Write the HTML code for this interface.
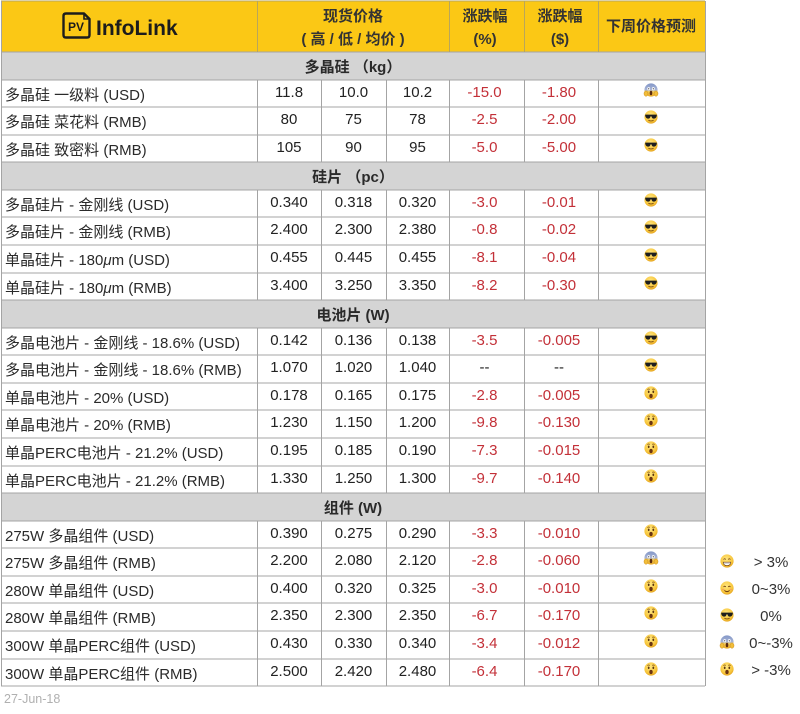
<!DOCTYPE html>
<html><head><meta charset="utf-8">
<style>
html,body{margin:0;padding:0;background:#fff;}
svg{display:block;}
.t{font-family:"Liberation Sans","Noto Sans CJK SC",sans-serif;}
</style></head>
<body>
<svg width="800" height="714" viewBox="0 0 800 714" xmlns="http://www.w3.org/2000/svg">
<defs>
<radialGradient id="yg" cx="0.45" cy="0.35" r="0.7">
<stop offset="0" stop-color="#FFE680"/><stop offset="0.7" stop-color="#F7C53A"/><stop offset="1" stop-color="#E09A1A"/>
</radialGradient>
<linearGradient id="bg" x1="0" y1="0" x2="0" y2="1">
<stop offset="0" stop-color="#8397C8"/><stop offset="0.5" stop-color="#A8B4D6"/><stop offset="0.62" stop-color="#F5CC55"/><stop offset="1" stop-color="#E8A828"/>
</linearGradient>
<g id="cool">
<circle r="6.6" fill="url(#yg)"/>
<path d="M-5.8,-2.4 H5.8 V-1.3 Q5.3,1.6 2.6,1.6 Q0.9,1.6 0.5,-0.6 H-0.5 Q-0.9,1.6 -2.6,1.6 Q-5.3,1.6 -5.8,-1.3Z" fill="#1e1e1e"/>
<path d="M-2.6,3.1 Q0,4.8 2.6,3.1" stroke="#7a4a10" stroke-width="0.9" fill="none"/>
</g>
<g id="ast">
<circle r="6.6" fill="url(#yg)"/>
<path d="M-3.6,-3.4 Q-2.4,-4.4 -1.2,-3.6 M1.2,-3.6 Q2.4,-4.4 3.6,-3.4" stroke="#7a4a10" stroke-width="0.7" fill="none"/>
<ellipse cx="-2.3" cy="-1.2" rx="0.9" ry="1.3" fill="#5a3510"/>
<ellipse cx="2.3" cy="-1.2" rx="0.9" ry="1.3" fill="#5a3510"/>
<ellipse cx="0" cy="3" rx="1.7" ry="2.1" fill="#6b3412"/>
</g>
<g id="scream">
<circle r="6.6" fill="url(#bg)"/>
<ellipse cx="-2.3" cy="-1.3" rx="1.4" ry="1.6" fill="#fff"/>
<ellipse cx="2.3" cy="-1.3" rx="1.4" ry="1.6" fill="#fff"/>
<circle cx="-2.3" cy="-1.2" r="0.6" fill="#333"/>
<circle cx="2.3" cy="-1.2" r="0.6" fill="#333"/>
<ellipse cx="0" cy="3" rx="1.3" ry="2.3" fill="#5a2a10"/>
<ellipse cx="-5" cy="3.6" rx="2" ry="2.6" fill="#F2BE3A" stroke="#C98A18" stroke-width="0.5"/>
<ellipse cx="5" cy="3.6" rx="2" ry="2.6" fill="#F2BE3A" stroke="#C98A18" stroke-width="0.5"/>
</g>
<g id="grin">
<circle r="6.6" fill="url(#yg)"/>
<path d="M-3.4,-1.5 Q-2.3,-3 -1.2,-1.5 M1.2,-1.5 Q2.3,-3 3.4,-1.5" stroke="#6b3a10" stroke-width="0.8" fill="none"/>
<path d="M-3.8,1.2 H3.8 Q3.6,4.6 0,4.6 Q-3.6,4.6 -3.8,1.2Z" fill="#fff" stroke="#6b3a10" stroke-width="0.6"/>
<path d="M-3.6,2.6 H3.6" stroke="#999" stroke-width="0.4"/>
</g>
<g id="smile">
<circle r="6.6" fill="url(#yg)"/>
<path d="M-3.4,-1 Q-2.3,-2.6 -1.2,-1 M1.2,-1 Q2.3,-2.6 3.4,-1" stroke="#6b3a10" stroke-width="0.8" fill="none"/>
<ellipse cx="-3.8" cy="1.5" rx="1.3" ry="0.8" fill="#F08A6A" opacity="0.6"/>
<ellipse cx="3.8" cy="1.5" rx="1.3" ry="0.8" fill="#F08A6A" opacity="0.6"/>
<path d="M-2.6,2.4 Q0,4.8 2.6,2.4" stroke="#6b3a10" stroke-width="0.9" fill="none"/>
</g>
</defs>

<rect x="0" y="0" width="800" height="714" fill="#fff"/>

<!-- header -->
<rect x="1" y="1" width="704" height="51" fill="#FBC815"/>
<!-- section rows -->
<rect x="1" y="52" width="704" height="28" fill="#D4D4D4"/>
<rect x="1" y="162" width="704" height="28" fill="#D4D4D4"/>
<rect x="1" y="300" width="704" height="28" fill="#D4D4D4"/>
<rect x="1" y="493" width="704" height="28" fill="#D4D4D4"/>

<!-- horizontal lines -->
<g stroke="#A4A4A4" stroke-width="1">
<line x1="1" y1="1" x2="705" y2="1" stroke="#B9A65A"/>
<line x1="1" y1="52" x2="705" y2="52"/>
<line x1="1" y1="80" x2="705" y2="80"/>
<line x1="1" y1="107" x2="705" y2="107"/>
<line x1="1" y1="135" x2="705" y2="135"/>
<line x1="1" y1="162" x2="705" y2="162"/>
<line x1="1" y1="190" x2="705" y2="190"/>
<line x1="1" y1="217" x2="705" y2="217"/>
<line x1="1" y1="245" x2="705" y2="245"/>
<line x1="1" y1="273" x2="705" y2="273"/>
<line x1="1" y1="300" x2="705" y2="300"/>
<line x1="1" y1="328" x2="705" y2="328"/>
<line x1="1" y1="355" x2="705" y2="355"/>
<line x1="1" y1="383" x2="705" y2="383"/>
<line x1="1" y1="410" x2="705" y2="410"/>
<line x1="1" y1="438" x2="705" y2="438"/>
<line x1="1" y1="466" x2="705" y2="466"/>
<line x1="1" y1="493" x2="705" y2="493"/>
<line x1="1" y1="521" x2="705" y2="521"/>
<line x1="1" y1="548" x2="705" y2="548"/>
<line x1="1" y1="576" x2="705" y2="576"/>
<line x1="1" y1="603" x2="705" y2="603"/>
<line x1="1" y1="631" x2="705" y2="631"/>
<line x1="1" y1="659" x2="705" y2="659"/>
<line x1="1" y1="686" x2="705" y2="686"/>
<!-- outer verticals -->
<line x1="1.5" y1="1" x2="1.5" y2="686"/>
<line x1="705.5" y1="1" x2="705.5" y2="686"/>
</g>
<!-- header verticals -->
<g stroke="#B9A65A" stroke-width="1">
<line x1="257.5" y1="1" x2="257.5" y2="52"/>
<line x1="449.5" y1="1" x2="449.5" y2="52"/>
<line x1="524.5" y1="1" x2="524.5" y2="52"/>
<line x1="598.5" y1="1" x2="598.5" y2="52"/>
</g>
<!-- data verticals -->
<g stroke="#A4A4A4" stroke-width="1">
<line x1="257.5" y1="80" x2="257.5" y2="162"/><line x1="321.5" y1="80" x2="321.5" y2="162"/><line x1="386.5" y1="80" x2="386.5" y2="162"/><line x1="449.5" y1="80" x2="449.5" y2="162"/><line x1="524.5" y1="80" x2="524.5" y2="162"/><line x1="598.5" y1="80" x2="598.5" y2="162"/>
<line x1="257.5" y1="190" x2="257.5" y2="300"/><line x1="321.5" y1="190" x2="321.5" y2="300"/><line x1="386.5" y1="190" x2="386.5" y2="300"/><line x1="449.5" y1="190" x2="449.5" y2="300"/><line x1="524.5" y1="190" x2="524.5" y2="300"/><line x1="598.5" y1="190" x2="598.5" y2="300"/>
<line x1="257.5" y1="328" x2="257.5" y2="493"/><line x1="321.5" y1="328" x2="321.5" y2="493"/><line x1="386.5" y1="328" x2="386.5" y2="493"/><line x1="449.5" y1="328" x2="449.5" y2="493"/><line x1="524.5" y1="328" x2="524.5" y2="493"/><line x1="598.5" y1="328" x2="598.5" y2="493"/>
<line x1="257.5" y1="521" x2="257.5" y2="686"/><line x1="321.5" y1="521" x2="321.5" y2="686"/><line x1="386.5" y1="521" x2="386.5" y2="686"/><line x1="449.5" y1="521" x2="449.5" y2="686"/><line x1="524.5" y1="521" x2="524.5" y2="686"/><line x1="598.5" y1="521" x2="598.5" y2="686"/>
</g>

<!-- logo -->
<path d="M66,13.5 H84 L89.5,19 V35 Q89.5,37.5 87,37.5 H66 Q63.5,37.5 63.5,35 V16 Q63.5,13.5 66,13.5Z" fill="none" stroke="#1c1c1c" stroke-width="2.4" stroke-linejoin="round"/>
<path d="M84,13.5 V19 H89.5" fill="none" stroke="#1c1c1c" stroke-width="1.6"/>
<text class="t" x="76" y="31" font-size="12" font-weight="bold" fill="#1c1c1c" text-anchor="middle">PV</text>
<text class="t" x="96" y="35" font-size="21" font-weight="bold" fill="#1c1c1c">InfoLink</text>

<!-- header text -->
<g class="t" font-size="15" font-weight="bold" fill="#333" text-anchor="middle">
<text x="353" y="21">现货价格</text>
<text x="353" y="44">( 高 / 低 / 均价 )</text>
<text x="485" y="21">涨跌幅</text>
<text x="485" y="44">(%)</text>
<text x="560" y="21">涨跌幅</text>
<text x="560" y="44">($)</text>
<text x="651" y="31">下周价格预测</text>
</g>

<!-- section titles -->
<g class="t" font-size="15" font-weight="bold" fill="#2a2a2a" text-anchor="middle">
<text x="353" y="72">多晶硅 （kg）</text>
<text x="353" y="182">硅片 （pc）</text>
<text x="353" y="320">电池片 (W)</text>
<text x="353" y="513">组件 (W)</text>
</g>

<!-- labels -->
<g class="t" font-size="15" fill="#2a2a2a">
<text x="5" y="100">多晶硅 一级料 (USD)</text>
<text x="5" y="127">多晶硅 菜花料 (RMB)</text>
<text x="5" y="155">多晶硅 致密料 (RMB)</text>
<text x="5" y="210">多晶硅片 - 金刚线 (USD)</text>
<text x="5" y="237">多晶硅片 - 金刚线 (RMB)</text>
<text x="5" y="265">单晶硅片 - 180<tspan font-style="italic">μ</tspan>m (USD)</text>
<text x="5" y="293">单晶硅片 - 180<tspan font-style="italic">μ</tspan>m (RMB)</text>
<text x="5" y="348">多晶电池片 - 金刚线 - 18.6% (USD)</text>
<text x="5" y="375">多晶电池片 - 金刚线 - 18.6% (RMB)</text>
<text x="5" y="403">单晶电池片 - 20% (USD)</text>
<text x="5" y="430">单晶电池片 - 20% (RMB)</text>
<text x="5" y="458">单晶PERC电池片 - 21.2% (USD)</text>
<text x="5" y="486">单晶PERC电池片 - 21.2% (RMB)</text>
<text x="5" y="541">275W 多晶组件 (USD)</text>
<text x="5" y="568">275W 多晶组件 (RMB)</text>
<text x="5" y="596">280W 单晶组件 (USD)</text>
<text x="5" y="623">280W 单晶组件 (RMB)</text>
<text x="5" y="651">300W 单晶PERC组件 (USD)</text>
<text x="5" y="679">300W 单晶PERC组件 (RMB)</text>
</g>

<!-- prices -->
<g class="t" font-size="15" fill="#222" text-anchor="middle">
<text x="289" y="97">11.8</text><text x="353.5" y="97">10.0</text><text x="417.5" y="97">10.2</text>
<text x="289" y="124">80</text><text x="353.5" y="124">75</text><text x="417.5" y="124">78</text>
<text x="289" y="152">105</text><text x="353.5" y="152">90</text><text x="417.5" y="152">95</text>
<text x="289" y="207">0.340</text><text x="353.5" y="207">0.318</text><text x="417.5" y="207">0.320</text>
<text x="289" y="234">2.400</text><text x="353.5" y="234">2.300</text><text x="417.5" y="234">2.380</text>
<text x="289" y="262">0.455</text><text x="353.5" y="262">0.445</text><text x="417.5" y="262">0.455</text>
<text x="289" y="290">3.400</text><text x="353.5" y="290">3.250</text><text x="417.5" y="290">3.350</text>
<text x="289" y="345">0.142</text><text x="353.5" y="345">0.136</text><text x="417.5" y="345">0.138</text>
<text x="289" y="372">1.070</text><text x="353.5" y="372">1.020</text><text x="417.5" y="372">1.040</text>
<text x="289" y="400">0.178</text><text x="353.5" y="400">0.165</text><text x="417.5" y="400">0.175</text>
<text x="289" y="427">1.230</text><text x="353.5" y="427">1.150</text><text x="417.5" y="427">1.200</text>
<text x="289" y="455">0.195</text><text x="353.5" y="455">0.185</text><text x="417.5" y="455">0.190</text>
<text x="289" y="483">1.330</text><text x="353.5" y="483">1.250</text><text x="417.5" y="483">1.300</text>
<text x="289" y="538">0.390</text><text x="353.5" y="538">0.275</text><text x="417.5" y="538">0.290</text>
<text x="289" y="565">2.200</text><text x="353.5" y="565">2.080</text><text x="417.5" y="565">2.120</text>
<text x="289" y="593">0.400</text><text x="353.5" y="593">0.320</text><text x="417.5" y="593">0.325</text>
<text x="289" y="620">2.350</text><text x="353.5" y="620">2.300</text><text x="417.5" y="620">2.350</text>
<text x="289" y="648">0.430</text><text x="353.5" y="648">0.330</text><text x="417.5" y="648">0.340</text>
<text x="289" y="676">2.500</text><text x="353.5" y="676">2.420</text><text x="417.5" y="676">2.480</text>
<text x="484.5" y="372">--</text><text x="559" y="372">--</text>
</g>

<!-- changes -->
<g class="t" font-size="15" fill="#C33038" text-anchor="middle">
<text x="484.5" y="97">-15.0</text><text x="559" y="97">-1.80</text>
<text x="484.5" y="124">-2.5</text><text x="559" y="124">-2.00</text>
<text x="484.5" y="152">-5.0</text><text x="559" y="152">-5.00</text>
<text x="484.5" y="207">-3.0</text><text x="559" y="207">-0.01</text>
<text x="484.5" y="234">-0.8</text><text x="559" y="234">-0.02</text>
<text x="484.5" y="262">-8.1</text><text x="559" y="262">-0.04</text>
<text x="484.5" y="290">-8.2</text><text x="559" y="290">-0.30</text>
<text x="484.5" y="345">-3.5</text><text x="559" y="345">-0.005</text>
<text x="484.5" y="400">-2.8</text><text x="559" y="400">-0.005</text>
<text x="484.5" y="427">-9.8</text><text x="559" y="427">-0.130</text>
<text x="484.5" y="455">-7.3</text><text x="559" y="455">-0.015</text>
<text x="484.5" y="483">-9.7</text><text x="559" y="483">-0.140</text>
<text x="484.5" y="538">-3.3</text><text x="559" y="538">-0.010</text>
<text x="484.5" y="565">-2.8</text><text x="559" y="565">-0.060</text>
<text x="484.5" y="593">-3.0</text><text x="559" y="593">-0.010</text>
<text x="484.5" y="620">-6.7</text><text x="559" y="620">-0.170</text>
<text x="484.5" y="648">-3.4</text><text x="559" y="648">-0.012</text>
<text x="484.5" y="676">-6.4</text><text x="559" y="676">-0.170</text>
</g>

<!-- prediction emojis -->
<use href="#scream" x="651" y="90"/>
<use href="#cool" x="651" y="117"/>
<use href="#cool" x="651" y="145"/>
<use href="#cool" x="651" y="200"/>
<use href="#cool" x="651" y="227"/>
<use href="#cool" x="651" y="255"/>
<use href="#cool" x="651" y="283"/>
<use href="#cool" x="651" y="338"/>
<use href="#cool" x="651" y="365"/>
<use href="#ast" x="651" y="393"/>
<use href="#ast" x="651" y="420"/>
<use href="#ast" x="651" y="448"/>
<use href="#ast" x="651" y="476"/>
<use href="#ast" x="651" y="531"/>
<use href="#scream" x="651" y="558"/>
<use href="#ast" x="651" y="586"/>
<use href="#ast" x="651" y="613"/>
<use href="#ast" x="651" y="641"/>
<use href="#ast" x="651" y="669"/>

<!-- legend -->
<use href="#grin" x="727" y="561"/>
<use href="#smile" x="727" y="588"/>
<use href="#cool" x="727" y="615"/>
<use href="#scream" x="727" y="642"/>
<use href="#ast" x="727" y="669"/>
<g class="t" font-size="15" fill="#333" text-anchor="middle">
<text x="771" y="567">&gt; 3%</text>
<text x="771" y="594">0~3%</text>
<text x="771" y="621">0%</text>
<text x="771" y="648">0~-3%</text>
<text x="771" y="675">&gt; -3%</text>
</g>

<!-- date -->
<text class="t" x="4" y="703" font-size="12.5" fill="#B0B0B0">27-Jun-18</text>
</svg>
</body></html>
